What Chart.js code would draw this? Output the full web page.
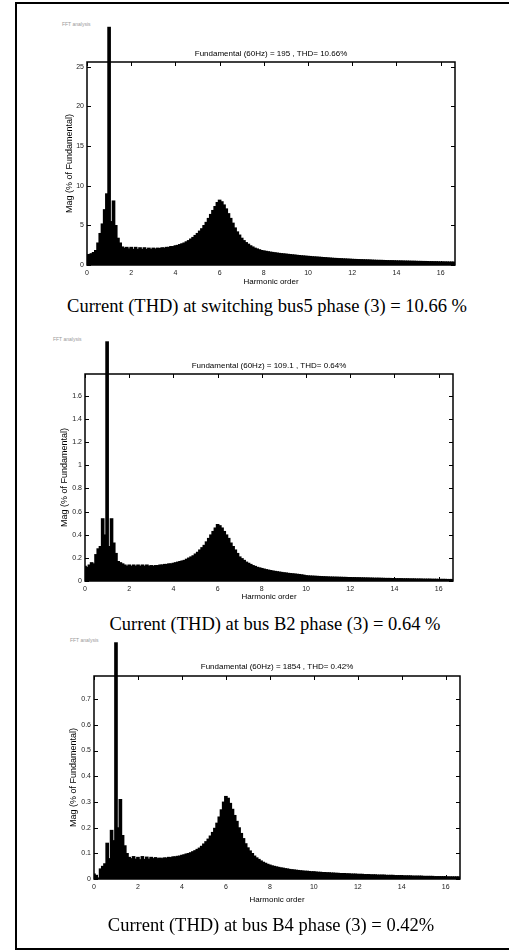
<!DOCTYPE html>
<html>
<head>
<meta charset="utf-8">
<script src="https://cdn.jsdelivr.net/npm/chart.js@4/dist/chart.umd.min.js"></script>
<style>
  body { margin: 0; background: #fff; width: 509px; height: 951px; overflow: hidden; position: relative; }
  .frame { position: absolute; left: 15px; top: 2px; width: 600px; height: 944px; border: 2px solid #000; }
  canvas { position: absolute; }
  .caption { position: absolute; font-family: "Liberation Serif", "Times New Roman", serif; font-size: 18.5px; color: #000; white-space: nowrap; transform: translate(-50%, -50%); }
  .fft { position: absolute; font-family: "Liberation Sans", Arial, sans-serif; font-size: 5px; color: #999; white-space: nowrap; transform: translateY(-50%); }
</style>
</head>
<body>
<div class="frame"></div>

<div class="fft" style="left:62px; top:24px;">FFT analysis</div>
<canvas id="c1" width="450" height="275" style="left:20px; top:20px;"></canvas>
<div class="caption" style="left:267px; top:306px;">Current (THD) at switching bus5 phase (3) = 10.66 %</div>

<div class="fft" style="left:53px; top:339px;">FFT analysis</div>
<canvas id="c2" width="450" height="285" style="left:20px; top:325px;"></canvas>
<div class="caption" style="left:275px; top:624px;">Current (THD) at bus B2 phase (3) = 0.64 %</div>

<div class="fft" style="left:70px; top:640px;">FFT analysis</div>
<canvas id="c3" width="450" height="290" style="left:20px; top:625px;"></canvas>
<div class="caption" style="left:271px; top:925px;">Current (THD) at bus B4 phase (3) = 0.42%</div>

<script>
// ---------------------------------------------------------
// data: spectrum magnitude (% of fundamental), one bin every 0.1 harmonic (0 .. 16.6)
// ---------------------------------------------------------
const harmonicStep = 0.1;
const xTicks = [0, 2, 4, 6, 8, 10, 12, 14, 16];

const titles = [
  'Fundamental (60Hz) = 195 , THD= 10.66%',
  'Fundamental (60Hz) = 109.1 , THD= 0.64%',
  'Fundamental (60Hz) = 1854 , THD= 0.42%'
];

const yTicks1 = [0, 5, 10, 15, 20, 25];
const yTicks2 = [0, 0.2, 0.4, 0.6, 0.8, 1, 1.2, 1.4, 1.6];
const yTicks3 = [0, 0.1, 0.2, 0.3, 0.4, 0.5, 0.6, 0.7];

// switching bus5
const mag1 = [
  1.30, 1.35, 1.45, 1.60, 1.85, 2.80, 4.00, 5.20, 7.00, 9.00,
  30.0, 5.50, 8.10, 5.00, 3.40, 2.80, 2.30, 2.15, 2.25, 2.05,
  2.25, 2.00, 2.25, 2.00, 2.20, 2.00, 2.20, 2.00, 2.15, 2.00,
  2.15, 2.05, 2.15, 2.10, 2.20, 2.15, 2.25, 2.25, 2.35, 2.35,
  2.45, 2.50, 2.60, 2.70, 2.80, 2.95, 3.10, 3.30, 3.50, 3.75,
  4.00, 4.30, 4.60, 5.00, 5.40, 5.90, 6.40, 6.90, 7.40, 7.90,
  8.20, 8.00, 7.60, 7.10, 6.50, 5.90, 5.30, 4.70, 4.20, 3.80,
  3.40, 3.10, 2.85, 2.65, 2.45, 2.30, 2.15, 2.05, 1.95, 1.85,
  1.80, 1.75, 1.70, 1.65, 1.61, 1.57, 1.53, 1.49, 1.46, 1.43,
  1.40, 1.37, 1.34, 1.31, 1.28, 1.25, 1.22, 1.19, 1.17, 1.14,
  1.12, 1.10, 1.07, 1.05, 1.03, 1.01, 0.99, 0.97, 0.95, 0.92,
  0.90, 0.88, 0.86, 0.85, 0.83, 0.82, 0.80, 0.79, 0.77, 0.76,
  0.74, 0.73, 0.72, 0.71, 0.70, 0.69, 0.68, 0.67, 0.66, 0.64,
  0.63, 0.62, 0.61, 0.61, 0.60, 0.59, 0.58, 0.57, 0.57, 0.56,
  0.55, 0.54, 0.54, 0.53, 0.52, 0.52, 0.51, 0.50, 0.50, 0.49,
  0.48, 0.48, 0.47, 0.47, 0.46, 0.45, 0.45, 0.44, 0.44, 0.43,
  0.42, 0.42, 0.41, 0.41, 0.40, 0.40, 0.39
];

// bus B2
const mag2 = [
  0.13, 0.12, 0.14, 0.16, 0.15, 0.23, 0.28, 0.30, 0.54, 0.40,
  2.07, 0.30, 0.54, 0.33, 0.24, 0.17, 0.16, 0.15, 0.14, 0.13,
  0.14, 0.13, 0.14, 0.13, 0.14, 0.13, 0.14, 0.13, 0.14, 0.13,
  0.135, 0.13, 0.135, 0.135, 0.14, 0.14, 0.145, 0.145, 0.15, 0.15,
  0.155, 0.16, 0.165, 0.17, 0.175, 0.18, 0.19, 0.20, 0.21, 0.22,
  0.235, 0.25, 0.27, 0.29, 0.31, 0.34, 0.37, 0.40, 0.43, 0.46,
  0.49, 0.48, 0.46, 0.43, 0.40, 0.37, 0.33, 0.30, 0.27, 0.24,
  0.21, 0.195, 0.18, 0.165, 0.155, 0.145, 0.135, 0.128, 0.12, 0.115,
  0.11, 0.105, 0.10, 0.096, 0.092, 0.088, 0.085, 0.082, 0.079, 0.076,
  0.073, 0.071, 0.068, 0.066, 0.064, 0.062, 0.060, 0.058, 0.055, 0.052,
  0.048, 0.046, 0.045, 0.044, 0.043, 0.042, 0.041, 0.040, 0.039, 0.038,
  0.037, 0.036, 0.036, 0.035, 0.035, 0.034, 0.034, 0.033, 0.033, 0.032,
  0.032, 0.031, 0.031, 0.030, 0.030, 0.029, 0.029, 0.028, 0.028, 0.027,
  0.027, 0.026, 0.026, 0.026, 0.025, 0.025, 0.024, 0.024, 0.024, 0.023,
  0.023, 0.022, 0.022, 0.022, 0.021, 0.021, 0.021, 0.020, 0.020, 0.020,
  0.019, 0.019, 0.019, 0.018, 0.018, 0.018, 0.018, 0.017, 0.017, 0.017,
  0.016, 0.016, 0.016, 0.016, 0.015, 0.015, 0.015
];

// bus B4
const mag3 = [
  0.020, 0.015, 0.005, 0.040, 0.050, 0.060, 0.140, 0.080, 0.190, 0.150,
  0.920, 0.200, 0.310, 0.170, 0.130, 0.100, 0.085, 0.080, 0.088, 0.078,
  0.085, 0.076, 0.088, 0.077, 0.086, 0.078, 0.085, 0.080, 0.084, 0.080,
  0.082, 0.080, 0.083, 0.082, 0.085, 0.084, 0.087, 0.087, 0.089, 0.090,
  0.093, 0.095, 0.098, 0.100, 0.103, 0.107, 0.111, 0.116, 0.121, 0.128,
  0.137, 0.146, 0.156, 0.168, 0.182, 0.198, 0.218, 0.242, 0.270, 0.300,
  0.322, 0.315, 0.295, 0.272, 0.248, 0.225, 0.200, 0.178, 0.158, 0.138,
  0.122, 0.110, 0.100, 0.090, 0.083, 0.077, 0.071, 0.066, 0.062, 0.058,
  0.055, 0.052, 0.050, 0.048, 0.046, 0.044, 0.043, 0.041, 0.040, 0.038,
  0.037, 0.036, 0.035, 0.034, 0.033, 0.032, 0.031, 0.031, 0.030, 0.029,
  0.029, 0.028, 0.027, 0.027, 0.026, 0.026, 0.025, 0.025, 0.024, 0.024,
  0.023, 0.023, 0.022, 0.022, 0.022, 0.021, 0.021, 0.020, 0.020, 0.020,
  0.019, 0.019, 0.019, 0.018, 0.018, 0.018, 0.017, 0.017, 0.017, 0.016,
  0.016, 0.016, 0.016, 0.015, 0.015, 0.015, 0.015, 0.014, 0.014, 0.014,
  0.014, 0.013, 0.013, 0.013, 0.013, 0.012, 0.012, 0.012, 0.012, 0.012,
  0.011, 0.011, 0.011, 0.011, 0.011, 0.010, 0.010, 0.010, 0.010, 0.010,
  0.010, 0.009, 0.009, 0.009, 0.009, 0.009, 0.009
];

// ---------------------------------------------------------
// layout of each panel (pixels inside its canvas)
// ---------------------------------------------------------
const panels = [
  { id: 'c1', values: mag1, yTicks: yTicks1, yMax: 25.6, title: titles[0],
    yAxisW: 67, padRight: 15, titleTop: 29.2, titleBottom: 3.2, xAxisH: 30, xTitleBottom: 8.2, yTitleTop: 44.6 },
  { id: 'c2', values: mag2, yTicks: yTicks2, yMax: 1.79, title: titles[1],
    yAxisW: 65, padRight: 17, titleTop: 36.2, titleBottom: 3.2, xAxisH: 29, xTitleBottom: 8.2, yTitleTop: 39.6 },
  { id: 'c3', values: mag3, yTicks: yTicks3, yMax: 0.79, title: titles[2],
    yAxisW: 74, padRight: 10, titleTop: 37.2, titleBottom: 4.2, xAxisH: 36, xTitleBottom: 10.2, yTitleTop: 48.6 }
];
const xMax = 16.65;

Chart.defaults.font.family = '"Liberation Sans", Arial, sans-serif';
Chart.defaults.color = '#222';

// matlab style box with inward ticks on all four sides
const matlabBox = {
  id: 'matlabBox',
  beforeDatasetsDraw(chart) {
    const { ctx, chartArea: a, scales: { x, y } } = chart;
    ctx.save();
    ctx.strokeStyle = '#000';
    ctx.lineWidth = 1;
    ctx.beginPath();
    x.ticks.forEach(t => {
      const px = Math.round(x.getPixelForValue(t.value)) + 0.5;
      ctx.moveTo(px, a.bottom); ctx.lineTo(px, a.bottom - 4);
      ctx.moveTo(px, a.top); ctx.lineTo(px, a.top + 4);
    });
    y.ticks.forEach(t => {
      const py = Math.round(y.getPixelForValue(t.value)) + 0.5;
      ctx.moveTo(a.left, py); ctx.lineTo(a.left + 4, py);
      ctx.moveTo(a.right, py); ctx.lineTo(a.right - 4, py);
    });
    ctx.stroke();
    ctx.lineWidth = 1.5;
    ctx.strokeRect(a.left, a.top, a.right - a.left, a.bottom - a.top);
    ctx.restore();
  }
};

const fmt = v => String(+Number(v).toFixed(2));

function makeChart(p) {
  const points = p.values.map((v, i) => ({ x: +(i * harmonicStep).toFixed(2), y: v }));
  return new Chart(document.getElementById(p.id), {
    type: 'bar',
    data: {
      datasets: [{
        data: points,
        backgroundColor: '#000',
        borderWidth: 0,
        barThickness: 3,
        clip: { left: 0, top: false, right: 0, bottom: 0 }
      }]
    },
    options: {
      responsive: false,
      animation: false,
      devicePixelRatio: 1,
      layout: { padding: { left: 0, right: p.padRight, top: 0, bottom: 0 } },
      plugins: {
        legend: { display: false },
        tooltip: { enabled: false },
        title: {
          display: true,
          text: p.title,
          fullSize: false,
          color: '#000',
          font: { size: 8, weight: 'normal' },
          padding: { top: p.titleTop, bottom: p.titleBottom }
        }
      },
      scales: {
        x: {
          type: 'linear',
          min: 0,
          max: xMax,
          offset: false,
          grid: { display: false, drawTicks: false },
          border: { display: false },
          afterBuildTicks: s => { s.ticks = xTicks.map(v => ({ value: v })); },
          afterFit: s => { s.height = p.xAxisH; },
          ticks: { autoSkip: false, maxRotation: 0, padding: 4, font: { size: 7 }, callback: fmt },
          title: { display: true, text: 'Harmonic order', color: '#000', font: { size: 8 }, padding: { top: 0, bottom: p.xTitleBottom } }
        },
        y: {
          min: 0,
          max: p.yMax,
          grid: { display: false, drawTicks: false },
          border: { display: false },
          afterBuildTicks: s => { s.ticks = p.yTicks.map(v => ({ value: v })); },
          afterFit: s => { s.width = p.yAxisW; },
          ticks: { autoSkip: false, padding: 3, font: { size: 7 }, callback: fmt },
          title: { display: true, text: 'Mag (% of Fundamental)', color: '#000', font: { size: 9 }, padding: { top: p.yTitleTop, bottom: 0 } }
        }
      }
    },
    plugins: [matlabBox]
  });
}

panels.forEach(makeChart);
</script>
</body>
</html>
